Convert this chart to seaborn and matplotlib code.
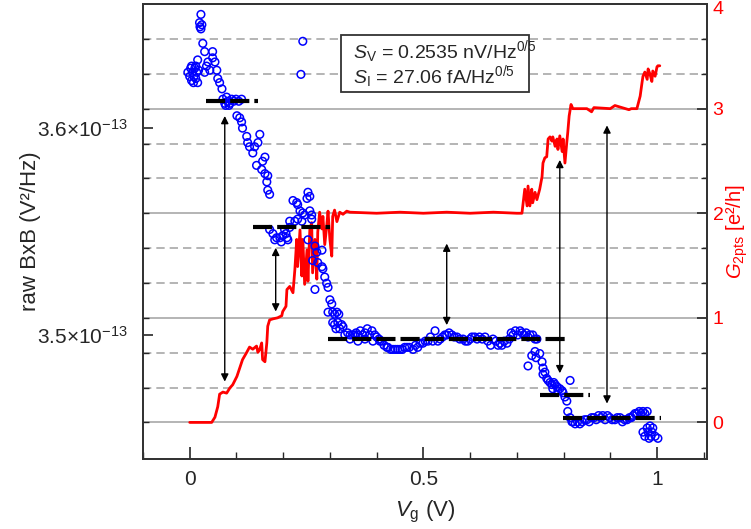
import numpy as np
import pandas as pd
import matplotlib
matplotlib.use("Agg")
import matplotlib.pyplot as plt
from matplotlib.patches import Rectangle
from matplotlib.ticker import MultipleLocator
from matplotlib.transforms import ScaledTranslation
import seaborn as sns

# -------------------------------
# DATA
# -------------------------------
# raw BxB noise (units of 1e-13 V^2/Hz) vs gate voltage Vg (V), as (Vg, BxB)
bxb_start = [(-0.004, 3.627), (0.000, 3.625), (0.002, 3.629), (0.004, 3.623), (0.006, 3.627),
             (0.009, 3.625), (0.011, 3.629), (0.013, 3.624), (0.015, 3.627), (0.017, 3.622),
             (0.019, 3.628), (0.004, 3.630), (0.008, 3.622), (0.013, 3.630), (0.024, 3.655),
             (0.021, 3.651), (0.022, 3.649), (0.024, 3.648), (0.026, 3.650), (0.028, 3.641),
             (0.032, 3.637), (0.017, 3.633), (0.049, 3.637), (0.049, 3.634), (0.039, 3.632),
             (0.036, 3.630), (0.043, 3.628), (0.032, 3.627), (0.054, 3.632), (0.058, 3.628),
             (0.060, 3.624), (0.064, 3.622), (0.069, 3.619)]
bxb_first_step = [(0.071, 3.614), (0.075, 3.612), (0.079, 3.615), (0.081, 3.613), (0.086, 3.612),
                  (0.090, 3.614), (0.094, 3.613), (0.099, 3.614), (0.105, 3.613), (0.111, 3.614),
                  (0.077, 3.611), (0.084, 3.611), (0.101, 3.606), (0.107, 3.605), (0.111, 3.603),
                  (0.113, 3.600), (0.122, 3.596), (0.124, 3.593), (0.128, 3.591), (0.150, 3.597),
                  (0.146, 3.593), (0.139, 3.591), (0.135, 3.588), (0.161, 3.586), (0.156, 3.584),
                  (0.143, 3.582), (0.154, 3.580), (0.161, 3.578), (0.167, 3.577), (0.165, 3.574),
                  (0.167, 3.570), (0.171, 3.568)]
bxb_outliers = [(0.242, 3.642), (0.238, 3.626)]
bxb_second_step = [(0.221, 3.565), (0.229, 3.564), (0.231, 3.563), (0.253, 3.569), (0.251, 3.566),
                   (0.257, 3.567), (0.236, 3.560), (0.242, 3.559), (0.246, 3.558), (0.257, 3.560),
                   (0.261, 3.558), (0.214, 3.555), (0.225, 3.555), (0.231, 3.556), (0.240, 3.555),
                   (0.261, 3.556), (0.171, 3.551), (0.178, 3.549), (0.186, 3.547), (0.193, 3.547),
                   (0.199, 3.548), (0.208, 3.547), (0.210, 3.546), (0.203, 3.551), (0.214, 3.552),
                   (0.182, 3.546), (0.196, 3.545), (0.206, 3.549)]
bxb_drop = [(0.253, 3.546), (0.268, 3.543), (0.272, 3.540), (0.283, 3.541), (0.263, 3.536),
            (0.274, 3.535), (0.283, 3.533), (0.285, 3.532), (0.289, 3.528), (0.293, 3.525),
            (0.296, 3.523), (0.268, 3.522), (0.300, 3.517), (0.304, 3.515), (0.296, 3.511),
            (0.306, 3.511), (0.315, 3.511), (0.306, 3.506), (0.317, 3.506), (0.325, 3.505),
            (0.328, 3.504), (0.310, 3.510), (0.319, 3.510), (0.310, 3.505), (0.313, 3.503),
            (0.321, 3.503)]
bxb_plateau = [(0.332, 3.500), (0.338, 3.501), (0.343, 3.500), (0.349, 3.500), (0.353, 3.500),
               (0.356, 3.501), (0.360, 3.500), (0.365, 3.502), (0.370, 3.500), (0.375, 3.501),
               (0.380, 3.503), (0.385, 3.500), (0.390, 3.502), (0.396, 3.500), (0.400, 3.499),
               (0.343, 3.498), (0.360, 3.497), (0.375, 3.498), (0.392, 3.497), (0.405, 3.498),
               (0.407, 3.497), (0.411, 3.497), (0.416, 3.495), (0.422, 3.494), (0.424, 3.494),
               (0.430, 3.493), (0.435, 3.493), (0.440, 3.493), (0.445, 3.493), (0.450, 3.493),
               (0.455, 3.493), (0.460, 3.494), (0.465, 3.494), (0.470, 3.494), (0.478, 3.493),
               (0.483, 3.495), (0.488, 3.494), (0.493, 3.496), (0.499, 3.496), (0.504, 3.497),
               (0.510, 3.497), (0.515, 3.499), (0.520, 3.497), (0.525, 3.502), (0.531, 3.497),
               (0.536, 3.498), (0.541, 3.499), (0.546, 3.500), (0.550, 3.500), (0.555, 3.501),
               (0.561, 3.500), (0.566, 3.499), (0.572, 3.499), (0.578, 3.498), (0.585, 3.498),
               (0.590, 3.497), (0.595, 3.497), (0.600, 3.498), (0.604, 3.499), (0.610, 3.499),
               (0.615, 3.498), (0.620, 3.499), (0.626, 3.498), (0.632, 3.499), (0.638, 3.497),
               (0.644, 3.495), (0.649, 3.498), (0.655, 3.497), (0.660, 3.495), (0.664, 3.496),
               (0.668, 3.495), (0.673, 3.497), (0.679, 3.496), (0.684, 3.498), (0.688, 3.501),
               (0.692, 3.500), (0.697, 3.502), (0.702, 3.500), (0.707, 3.502), (0.711, 3.501),
               (0.715, 3.500), (0.720, 3.501), (0.724, 3.499), (0.728, 3.500), (0.734, 3.500),
               (0.739, 3.498), (0.743, 3.498)]
bxb_third_drop = [(0.724, 3.485), (0.732, 3.490), (0.739, 3.492), (0.741, 3.489), (0.749, 3.491),
                  (0.754, 3.487), (0.756, 3.484), (0.760, 3.482), (0.756, 3.481), (0.764, 3.479),
                  (0.767, 3.478), (0.771, 3.477), (0.775, 3.476), (0.779, 3.477), (0.782, 3.476),
                  (0.786, 3.475), (0.777, 3.474), (0.788, 3.473), (0.792, 3.474), (0.797, 3.473),
                  (0.799, 3.472), (0.814, 3.478), (0.803, 3.470), (0.807, 3.468), (0.809, 3.463),
                  (0.814, 3.460), (0.818, 3.458)]
bxb_tail = [(0.820, 3.458), (0.825, 3.457), (0.830, 3.458), (0.835, 3.457), (0.840, 3.458),
            (0.845, 3.459), (0.850, 3.459), (0.855, 3.458), (0.860, 3.460), (0.865, 3.460),
            (0.870, 3.459), (0.875, 3.461), (0.880, 3.460), (0.884, 3.461), (0.889, 3.459),
            (0.894, 3.461), (0.899, 3.460), (0.904, 3.459), (0.910, 3.459), (0.915, 3.460),
            (0.921, 3.460), (0.926, 3.458), (0.931, 3.459), (0.936, 3.459), (0.941, 3.460),
            (0.945, 3.460), (0.949, 3.461), (0.953, 3.462), (0.957, 3.462), (0.962, 3.463),
            (0.966, 3.462), (0.970, 3.463), (0.974, 3.462), (0.979, 3.463), (0.970, 3.453),
            (0.974, 3.451), (0.979, 3.455), (0.981, 3.453), (0.985, 3.456), (0.989, 3.453),
            (0.991, 3.455), (0.996, 3.451), (1.002, 3.450), (0.983, 3.450), (0.987, 3.451)]

# two-point conductance G_2pts (e^2/h) vs Vg (V)
g_vg = [0.000, 0.047, 0.054, 0.060, 0.064, 0.071, 0.079, 0.086, 0.092, 0.101,
        0.107, 0.113, 0.122, 0.128, 0.135, 0.143, 0.146, 0.150, 0.154, 0.156,
        0.161, 0.165, 0.167, 0.171, 0.178, 0.188, 0.197, 0.199, 0.206, 0.208,
        0.214, 0.221, 0.225, 0.229, 0.231, 0.236, 0.240, 0.242, 0.246, 0.251,
        0.253, 0.257, 0.261, 0.263, 0.268, 0.272, 0.274, 0.278, 0.283, 0.285,
        0.289, 0.293, 0.296, 0.300, 0.304, 0.306, 0.310, 0.315, 0.321, 0.328,
        0.336, 0.343, 0.400, 0.450, 0.500, 0.550, 0.600, 0.650, 0.700, 0.711,
        0.717, 0.722, 0.724, 0.728, 0.732, 0.734, 0.739, 0.743, 0.749, 0.754,
        0.756, 0.760, 0.764, 0.767, 0.771, 0.775, 0.777, 0.782, 0.786, 0.788,
        0.792, 0.797, 0.799, 0.803, 0.807, 0.809, 0.812, 0.816, 0.820, 0.850,
        0.860, 0.865, 0.900, 0.910, 0.940, 0.945, 0.957, 0.964, 0.968, 0.970,
        0.974, 0.979, 0.981, 0.985, 0.989, 0.991, 0.996, 1.000, 1.002, 1.006]
g_2pts = [0.00, 0.00, 0.05, 0.15, 0.27, 0.29, 0.28, 0.33, 0.36, 0.44,
          0.52, 0.60, 0.67, 0.72, 0.70, 0.73, 0.67, 0.70, 0.76, 0.60,
          0.58, 0.76, 0.92, 0.98, 0.99, 1.00, 1.02, 1.06, 1.11, 1.27,
          1.30, 1.24, 1.46, 1.75, 1.49, 1.84, 1.40, 1.75, 1.32, 1.65,
          1.35, 1.84, 1.91, 1.43, 1.75, 1.37, 1.82, 2.01, 1.85, 1.97,
          1.70, 1.87, 2.02, 1.75, 1.59, 1.97, 2.03, 1.92, 2.01, 1.99,
          2.02, 2.01, 2.00, 2.01, 2.00, 2.01, 2.00, 2.01, 2.00, 2.00,
          2.23, 2.07, 2.26, 2.07, 2.23, 2.10, 2.20, 2.13, 2.23, 2.35,
          2.48, 2.53, 2.54, 2.71, 2.73, 2.69, 2.73, 2.64, 2.71, 2.61,
          2.74, 2.59, 2.71, 2.48, 2.68, 2.77, 2.93, 3.04, 3.00, 3.00,
          2.97, 3.01, 3.00, 3.03, 2.99, 3.00, 3.00, 3.12, 3.25, 3.31,
          3.35, 3.28, 3.38, 3.33, 3.26, 3.36, 3.31, 3.40, 3.41, 3.41]

# BxB plateau levels (dashed black lines)
level_vg_start = [0.034, 0.135, 0.296, 0.749, 0.799]
level_vg_end = [0.146, 0.300, 0.807, 0.857, 1.009]
level_bxb = [3.613, 3.552, 3.498, 3.471, 3.460]

# double arrows, in G_2pts units
arrow_vg = [0.075, 0.184, 0.550, 0.792, 0.893]
arrow_g_top = [2.93, 1.67, 1.71, 2.51, 2.84]
arrow_g_bottom = [0.39, 1.06, 0.93, 0.47, 0.18]

noise_lines = [r"$S_\mathrm{V}$ = 0.2535 nV/Hz$^{0/5}$",
               r"$S_\mathrm{I}$ = 27.06 fA/Hz$^{0/5}$"]

bxb_df = pd.DataFrame(
    bxb_start + bxb_first_step + bxb_outliers + bxb_second_step + bxb_drop
    + bxb_plateau + bxb_third_drop + bxb_tail,
    columns=["vg", "bxb"],
)
g_df = pd.DataFrame({"vg": g_vg, "g": g_2pts})

# -------------------------------
# STYLE
# -------------------------------
sns.set_theme(style="ticks")
plt.rcParams["font.family"] = ["Liberation Sans", "DejaVu Sans"]
plt.rcParams["mathtext.fontset"] = "custom"
plt.rcParams["mathtext.rm"] = "Liberation Sans"
plt.rcParams["mathtext.it"] = "Liberation Sans:italic"
plt.rcParams["mathtext.bf"] = "Liberation Sans:bold"

XLIM = (-0.1, 1.107)
BXB_LIM = (3.44, 3.66)
G_LIM = (-0.35, 4.0)

fig = plt.figure(figsize=(7.51, 5.29), dpi=100)
ax = fig.add_axes([0.1904, 0.1323, 0.751, 0.860])
ax2 = ax.twinx()
ax.set_zorder(ax2.get_zorder() + 1)
ax.patch.set_visible(False)

# ---- G_2pts (right axis) ----
sns.lineplot(data=g_df, x="vg", y="g", ax=ax2, color="#ff0000", lw=2.0,
             estimator=None, sort=False)

g_major = [0, 1, 2, 3, 4]
g_minor = [k / 3 for k in range(1, 12) if k % 3]
ax2.set_yticks(g_major)
ax2.set_yticks(g_minor, minor=True)
ax2.set_ylim(*G_LIM)
ax2.grid(True, which="major", axis="y", color="#a8a8a8", lw=1.2)
ax2.grid(True, which="minor", axis="y", color="#a8a8a8", lw=1.2, ls=(0, (5, 3)))
ax2.grid(False, axis="x")
ax2.set_ylabel(r"$G_\mathrm{2pts}$ [e²/h]", color="#ff0000", fontsize=14.5, labelpad=1)
ax2.tick_params(axis="y", which="major", direction="in", length=7, width=1.2,
                labelcolor="#ff0000", labelsize=14, pad=4)
ax2.tick_params(axis="y", which="minor", direction="in", length=4, width=1.0)
# nudge the top "4" label down so it stays inside the figure
top_lab = ax2.yaxis.get_major_ticks()[-1].label2
top_lab.set_transform(top_lab.get_transform()
                      + ScaledTranslation(0, -2.5 / 72, fig.dpi_scale_trans))

for v, top, bot in zip(arrow_vg, arrow_g_top, arrow_g_bottom):
    ax2.annotate("", xy=(v, top), xytext=(v, bot),
                 arrowprops=dict(arrowstyle="<|-|>", color="black", lw=1.0,
                                 mutation_scale=11, shrinkA=0, shrinkB=0))

# ---- BxB (left axis) ----
sns.scatterplot(data=bxb_df, x="vg", y="bxb", ax=ax, s=30, color="#0000ff",
                linewidth=1.1, zorder=3)
pts = ax.collections[-1]
pts.set_facecolor("none")
pts.set_edgecolor("#0000ff")

for x0, x1, lev in zip(level_vg_start, level_vg_end, level_bxb):
    ax.plot([x0, x1], [lev, lev], color="black", lw=3.0, dashes=(4.6, 1.2),
            dash_capstyle="butt", zorder=4)

ax.set_xlim(*XLIM)
ax.set_ylim(*BXB_LIM)
ax.set_xticks([0, 0.5, 1])
ax.set_xticklabels(["0", "0.5", "1"])
ax.xaxis.set_minor_locator(MultipleLocator(0.1))
ax.set_yticks([3.5, 3.6])
ax.set_yticklabels([r"$3.5{\times}10^{-13}$", r"$3.6{\times}10^{-13}$"])
# left minor ticks sit on the right-axis grid lines
scale = (BXB_LIM[1] - BXB_LIM[0]) / (G_LIM[1] - G_LIM[0])
ax.set_yticks([BXB_LIM[0] + (g - G_LIM[0]) * scale for g in g_major[:-1] + g_minor], minor=True)

ax.tick_params(axis="both", which="both", direction="in")
ax.tick_params(axis="y", which="major", length=7, width=1.2, labelsize=15, pad=11)
ax.tick_params(axis="y", which="minor", length=4, width=1.0)
ax.tick_params(axis="x", which="major", length=9, width=1.2, labelsize=15, pad=8)
ax.tick_params(axis="x", which="minor", length=5, width=1.0)

ax.set_xlabel(r"$V_\mathrm{g}$ (V)", fontsize=16, labelpad=7)
ax.set_ylabel("raw BxB (V²/Hz)", fontsize=16, labelpad=-3)

for a in (ax, ax2):
    for sp in a.spines.values():
        sp.set_visible(True)
        sp.set_color("#333333")
        sp.set_linewidth(1.3)

# noise figures box
ax.add_patch(Rectangle((0.351, 0.807), 0.333, 0.125, transform=ax.transAxes,
                       fc="white", ec="#333333", lw=1.3, zorder=6))
ax.text(0.372, 0.882, noise_lines[0], transform=ax.transAxes, va="baseline",
        ha="left", fontsize=14, zorder=7)
ax.text(0.372, 0.826, noise_lines[1], transform=ax.transAxes, va="baseline",
        ha="left", fontsize=14, zorder=7)

fig.savefig("out.png", dpi=100)
plt.close(fig)
